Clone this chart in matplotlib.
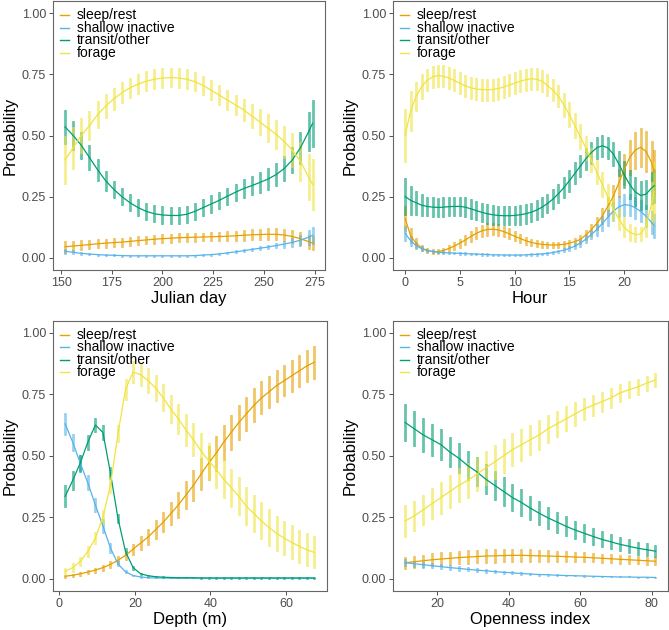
import matplotlib
matplotlib.use("Agg")
import matplotlib.pyplot as plt
import matplotlib.transforms as mtransforms
from matplotlib.lines import Line2D
import numpy as np

plt.rcParams['font.family'] = ['Liberation Sans', 'DejaVu Sans']

# ---------------- data ----------------
labels = ["sleep/rest", "shallow inactive", "transit/other", "forage"]
colors = ["#E69F00", "#56B4E9", "#009E73", "#F0E442"]

# Julian day
x_j = [152,156,160,164,168,172,176,180,184,188,192,196,200,204,208,212,216,220,224,228,232,236,240,244,248,252,256,260,264,268,272,274]
sleep_j = [0.045,0.048,0.051,0.054,0.057,0.060,0.062,0.064,0.067,0.070,0.073,0.076,0.078,0.080,0.082,0.083,0.084,0.085,0.086,0.087,0.088,0.090,0.092,0.094,0.095,0.096,0.096,0.093,0.087,0.078,0.066,0.060]
sleep_j_h = [0.025,0.022,0.020,0.019,0.018,0.018,0.018,0.018,0.018,0.018,0.018,0.018,0.018,0.018,0.018,0.018,0.018,0.018,0.019,0.020,0.020,0.021,0.022,0.023,0.024,0.025,0.025,0.026,0.026,0.027,0.029,0.030]
shallow_j = [0.027,0.022,0.018,0.015,0.013,0.011,0.010,0.009,0.008,0.008,0.008,0.008,0.008,0.008,0.008,0.008,0.009,0.011,0.013,0.016,0.020,0.024,0.029,0.034,0.039,0.044,0.050,0.056,0.063,0.072,0.084,0.092]
shallow_j_h = [0.010,0.008,0.006,0.005,0.004,0.004,0.004,0.004,0.004,0.004,0.004,0.004,0.004,0.004,0.004,0.004,0.004,0.004,0.004,0.005,0.005,0.006,0.007,0.008,0.009,0.010,0.012,0.014,0.017,0.022,0.030,0.035]
transit_j = [0.535,0.500,0.460,0.410,0.360,0.315,0.280,0.250,0.225,0.205,0.190,0.180,0.175,0.173,0.173,0.178,0.190,0.205,0.220,0.235,0.252,0.268,0.283,0.295,0.308,0.322,0.340,0.365,0.400,0.450,0.515,0.550]
transit_j_h = [0.070,0.060,0.055,0.050,0.045,0.040,0.035,0.035,0.035,0.035,0.035,0.035,0.035,0.035,0.035,0.035,0.035,0.035,0.035,0.035,0.035,0.035,0.038,0.040,0.043,0.045,0.048,0.050,0.055,0.065,0.080,0.095]
forage_j = [0.400,0.450,0.500,0.540,0.585,0.620,0.650,0.675,0.695,0.710,0.722,0.730,0.735,0.737,0.735,0.730,0.720,0.705,0.685,0.665,0.645,0.625,0.605,0.580,0.555,0.530,0.505,0.475,0.440,0.395,0.330,0.300]
forage_j_h = [0.100,0.085,0.070,0.060,0.055,0.050,0.045,0.042,0.040,0.040,0.040,0.040,0.040,0.040,0.040,0.040,0.040,0.040,0.040,0.040,0.040,0.042,0.045,0.048,0.052,0.056,0.060,0.065,0.070,0.080,0.095,0.105]

# Hour
x_h = [0,0.5,1,1.5,2,2.5,3,3.5,4,4.5,5,5.5,6,6.5,7,7.5,8,8.5,9,9.5,10,10.5,11,11.5,12,12.5,13,13.5,14,14.5,15,15.5,16,16.5,17,17.5,18,18.5,19,19.5,20,20.5,21,21.5,22,22.5,22.75]
sleep_h = [0.16,0.09,0.06,0.04,0.03,0.025,0.025,0.03,0.038,0.048,
           0.06,0.073,0.087,0.10,0.11,0.116,0.117,0.114,0.107,0.098,
           0.088,0.079,0.07,0.063,0.058,0.055,0.053,0.052,0.053,0.055,
           0.06,0.066,0.075,0.093,0.115,0.14,0.17,0.21,0.25,0.305,
           0.36,0.41,0.44,0.452,0.435,0.39,0.35]
sleep_h_h = [0.05,0.03,0.02,0.012,0.01,0.01,0.01,0.012,0.014,0.016,
             0.018,0.02,0.022,0.024,0.025,0.025,0.025,0.025,0.024,0.022,
             0.02,0.018,0.016,0.015,0.014,0.013,0.013,0.013,0.013,0.013,
             0.014,0.016,0.018,0.02,0.024,0.028,0.033,0.04,0.048,0.056,
             0.064,0.07,0.075,0.08,0.083,0.087,0.09]
shallow_h = [0.10,0.07,0.05,0.037,0.03,0.026,0.023,0.021,0.02,0.019,
             0.018,0.017,0.016,0.015,0.014,0.013,0.012,0.012,0.011,0.011,
             0.011,0.011,0.012,0.013,0.014,0.016,0.018,0.021,0.026,0.031,
             0.038,0.048,0.06,0.076,0.095,0.115,0.14,0.165,0.19,0.208,
             0.217,0.215,0.205,0.19,0.17,0.145,0.13]
shallow_h_h = [0.03,0.02,0.015,0.01,0.007,0.005,0.005,0.005,0.005,0.005,
               0.005,0.005,0.005,0.005,0.005,0.005,0.005,0.005,0.005,0.005,
               0.005,0.005,0.005,0.005,0.005,0.005,0.005,0.006,0.007,0.008,
               0.01,0.012,0.015,0.017,0.02,0.025,0.03,0.035,0.04,0.043,
               0.045,0.045,0.045,0.045,0.045,0.048,0.05]
transit_h = [0.25,0.235,0.225,0.215,0.21,0.207,0.206,0.207,0.209,0.21,
             0.21,0.207,0.20,0.193,0.186,0.18,0.176,0.173,0.172,0.172,
             0.173,0.176,0.18,0.186,0.195,0.207,0.222,0.24,0.262,0.287,
             0.315,0.345,0.375,0.405,0.43,0.45,0.458,0.45,0.425,0.385,
             0.34,0.30,0.27,0.255,0.26,0.285,0.295]
transit_h_h = [0.075,0.06,0.05,0.045,0.04,0.04,0.04,0.04,0.04,0.04,
               0.04,0.04,0.04,0.04,0.04,0.04,0.04,0.04,0.04,0.04,
               0.04,0.04,0.04,0.04,0.04,0.04,0.04,0.04,0.04,0.042,
               0.044,0.045,0.045,0.045,0.045,0.045,0.045,0.045,0.048,0.05,
               0.055,0.058,0.06,0.06,0.06,0.065,0.07]
forage_h = [0.50,0.60,0.66,0.70,0.725,0.74,0.745,0.742,0.735,0.725,
            0.714,0.703,0.695,0.69,0.688,0.687,0.688,0.692,0.698,0.706,
            0.714,0.722,0.728,0.732,0.73,0.722,0.705,0.685,0.66,0.625,
            0.585,0.54,0.495,0.45,0.40,0.35,0.30,0.25,0.20,0.16,
            0.125,0.105,0.095,0.097,0.13,0.22,0.27]
forage_h_h = [0.11,0.08,0.06,0.05,0.045,0.045,0.045,0.045,0.045,0.045,
              0.045,0.045,0.045,0.045,0.045,0.045,0.045,0.045,0.045,0.045,
              0.045,0.045,0.045,0.045,0.045,0.045,0.045,0.045,0.045,0.048,
              0.05,0.05,0.05,0.05,0.05,0.05,0.05,0.05,0.05,0.045,
              0.04,0.035,0.03,0.03,0.045,0.09,0.12]

# Depth (m)
x_d = [1.5,3.5,5.5,7.5,9.5,11.5,13.5,15.5,17.5,19.5,21.5,23.5,25.5,27.5,29.5,31.5,33.5,35.5,37.5,39.5,41.5,43.5,45.5,47.5,49.5,51.5,53.5,55.5,57.5,59.5,61.5,63.5,65.5,67.5]
sleep_d = [0.01,0.014,0.02,0.027,0.035,0.045,0.058,0.075,0.095,0.12,
           0.145,0.17,0.20,0.23,0.265,0.30,0.34,0.38,0.425,0.47,
           0.51,0.555,0.595,0.635,0.67,0.705,0.735,0.76,0.785,0.805,
           0.825,0.845,0.865,0.88]
sleep_d_h = [0.007,0.007,0.008,0.009,0.01,0.012,0.014,0.016,0.019,0.023,
             0.027,0.032,0.037,0.042,0.048,0.053,0.058,0.062,0.066,0.069,
             0.071,0.072,0.072,0.071,0.07,0.069,0.067,0.066,0.065,0.064,
             0.064,0.065,0.066,0.068]
shallow_d = [0.63,0.555,0.47,0.39,0.30,0.215,0.125,0.06,0.028,0.013,
             0.007,0.004,0.003,0.003,0.002,0.002,0.002,0.002,0.002,0.002,
             0.002,0.002,0.002,0.002,0.002,0.002,0.002,0.002,0.002,0.002,
             0.002,0.002,0.002,0.002]
shallow_d_h = [0.045,0.035,0.032,0.03,0.03,0.028,0.02,0.01,0.006,0.004,
               0.003,0.002,0.002,0.001,0.001,0.001,0.001,0.001,0.001,0.001,
               0.001,0.001,0.001,0.001,0.001,0.001,0.001,0.001,0.001,0.001,
               0.001,0.001,0.001,0.001]
transit_d = [0.335,0.40,0.47,0.555,0.625,0.595,0.43,0.245,0.11,0.045,
             0.02,0.012,0.008,0.006,0.005,0.004,0.004,0.004,0.003,0.003,
             0.003,0.003,0.003,0.003,0.003,0.003,0.003,0.003,0.003,0.003,
             0.003,0.003,0.003,0.003]
transit_d_h = [0.045,0.04,0.035,0.03,0.03,0.03,0.025,0.02,0.015,0.008,
               0.005,0.004,0.003,0.003,0.003,0.003,0.003,0.003,0.003,0.003,
               0.003,0.003,0.003,0.003,0.003,0.003,0.003,0.003,0.003,0.003,
               0.003,0.003,0.003,0.003]
forage_d = [0.03,0.045,0.07,0.11,0.165,0.25,0.38,0.59,0.77,0.84,
            0.83,0.805,0.775,0.735,0.69,0.65,0.605,0.565,0.52,0.48,
            0.445,0.405,0.37,0.335,0.295,0.265,0.235,0.208,0.185,0.165,
            0.148,0.132,0.118,0.107]
forage_d_h = [0.015,0.017,0.02,0.022,0.025,0.028,0.032,0.036,0.042,0.046,
              0.048,0.05,0.052,0.055,0.058,0.062,0.065,0.068,0.071,0.073,
              0.075,0.076,0.077,0.077,0.077,0.076,0.075,0.074,0.072,0.07,
              0.069,0.068,0.066,0.065]

# Openness index
x_o = [11,13.5,16,18.5,21,23.5,26,28.5,31,33.5,36,38.5,41,43.5,46,48.5,51,53.5,56,58.5,61,63.5,66,68.5,71,73.5,76,78.5,81]
sleep_o = [0.065,0.069,0.073,0.077,0.08,0.083,0.086,0.088,0.09,0.092,
           0.093,0.094,0.095,0.095,0.094,0.093,0.092,0.091,0.09,0.088,
           0.087,0.085,0.083,0.081,0.079,0.077,0.075,0.073,0.071]
sleep_o_h = [0.025,0.025,0.025,0.026,0.027,0.027,0.028,0.028,0.028,0.028,
             0.028,0.028,0.027,0.026,0.025,0.024,0.023,0.022,0.021,0.02,
             0.02,0.019,0.019,0.018,0.018,0.018,0.017,0.017,0.017]
shallow_o = [0.065,0.061,0.057,0.053,0.049,0.045,0.042,0.038,0.035,0.032,
             0.029,0.026,0.024,0.021,0.019,0.017,0.016,0.014,0.013,0.012,
             0.011,0.01,0.009,0.008,0.007,0.007,0.006,0.006,0.005]
shallow_o_h = [0.015,0.013,0.012,0.011,0.01,0.009,0.009,0.008,0.008,0.007,
               0.007,0.006,0.006,0.005,0.005,0.004,0.004,0.004,0.003,0.003,
               0.003,0.003,0.003,0.002,0.002,0.002,0.002,0.002,0.002]
transit_o = [0.635,0.61,0.585,0.565,0.545,0.515,0.49,0.46,0.435,0.405,
             0.38,0.355,0.33,0.31,0.287,0.266,0.247,0.23,0.213,0.198,
             0.185,0.172,0.16,0.15,0.14,0.132,0.124,0.118,0.112]
transit_o_h = [0.075,0.072,0.068,0.065,0.063,0.062,0.061,0.06,0.06,0.06,
               0.06,0.058,0.056,0.053,0.05,0.048,0.045,0.043,0.04,0.038,
               0.036,0.034,0.032,0.03,0.029,0.028,0.027,0.026,0.025]
forage_o = [0.235,0.255,0.28,0.305,0.33,0.355,0.38,0.40,0.425,0.45,
            0.475,0.50,0.525,0.545,0.565,0.585,0.61,0.63,0.65,0.67,
            0.69,0.705,0.72,0.735,0.755,0.768,0.78,0.795,0.808]
forage_o_h = [0.065,0.062,0.06,0.062,0.065,0.067,0.069,0.07,0.07,0.07,
              0.07,0.069,0.067,0.065,0.062,0.06,0.057,0.054,0.051,0.048,
              0.045,0.043,0.041,0.039,0.037,0.035,0.033,0.031,0.03]

y_ticks = [0.0, 0.25, 0.5, 0.75, 1.0]

panels = [
    dict(x=x_j, means=[sleep_j, shallow_j, transit_j, forage_j],
         halfs=[sleep_j_h, shallow_j_h, transit_j_h, forage_j_h],
         xticks=[150, 175, 200, 225, 250, 275], xlabel="Julian day",
         rect=[52.7, 1.0, 325.0, 270.0]),
    dict(x=x_h, means=[sleep_h, shallow_h, transit_h, forage_h],
         halfs=[sleep_h_h, shallow_h_h, transit_h_h, forage_h_h],
         xticks=[0, 5, 10, 15, 20], xlabel="Hour",
         rect=[392.7, 1.0, 666.7, 270.0]),
    dict(x=x_d, means=[sleep_d, shallow_d, transit_d, forage_d],
         halfs=[sleep_d_h, shallow_d_h, transit_d_h, forage_d_h],
         xticks=[0, 20, 40, 60], xlabel="Depth (m)",
         rect=[52.7, 320.5, 326.7, 591.0]),
    dict(x=x_o, means=[sleep_o, shallow_o, transit_o, forage_o],
         halfs=[sleep_o_h, shallow_o_h, transit_o_h, forage_o_h],
         xticks=[20, 40, 60, 80], xlabel="Openness index",
         rect=[392.7, 320.5, 668.0, 591.0]),
]

W, H = 669, 630
fig = plt.figure(figsize=(W / 100, H / 100), dpi=100)

for p in panels:
    l, t, r, b = p["rect"]
    ax = fig.add_axes([l / W, 1 - b / H, (r - l) / W, (b - t) / H])
    x = np.array(p["x"], dtype=float)
    for m, h, c in zip(p["means"], p["halfs"], colors):
        m = np.array(m); h = np.array(h)
        ax.errorbar(x, m, yerr=h, fmt='none', ecolor=c, elinewidth=2.0,
                    capsize=0.9, capthick=0.6, alpha=0.6, zorder=2)
        ax.plot(x, m, color=c, lw=0.9, zorder=3)
    rng = x.max() - x.min()
    ax.set_xlim(x.min() - 0.05 * rng, x.max() + 0.05 * rng)
    ax.set_ylim(-0.05, 1.05)
    ax.set_yticks(y_ticks)
    ax.set_yticklabels(["%.2f" % v for v in y_ticks])
    ax.set_xticks(p["xticks"])
    ax.tick_params(axis='both', direction='out', length=2.7, width=0.6,
                   color='#333333', labelcolor='#4D4D4D', labelsize=9, pad=2)
    for s in ax.spines.values():
        s.set_color('#666666')
        s.set_linewidth(0.8)
    ax.set_ylabel("Probability", fontsize=12, labelpad=3)
    ax.set_xlabel(p["xlabel"], fontsize=12, labelpad=2)

    # legend drawn at pixel offsets from the panel's top-left corner
    for i, (lab, c) in enumerate(zip(labels, colors)):
        dy = -(14.0 + 12.6 * i)
        tr_a = mtransforms.offset_copy(ax.transAxes, fig=fig, x=7.5, y=dy, units='dots')
        tr_b = mtransforms.offset_copy(ax.transAxes, fig=fig, x=16.0, y=dy, units='dots')
        p0 = tr_a.transform((0, 1)); p1 = tr_b.transform((0, 1))
        fig.lines.append(Line2D([p0[0], p1[0]], [p0[1], p1[1]], color=c, lw=1.0,
                                transform=None, figure=fig))
        tr_text = mtransforms.offset_copy(ax.transAxes, fig=fig, x=24.0, y=dy, units='dots')
        ax.text(0, 1, lab, transform=tr_text, fontsize=10, color='black',
                va='center', ha='left')

fig.savefig("out.png", dpi=100)
